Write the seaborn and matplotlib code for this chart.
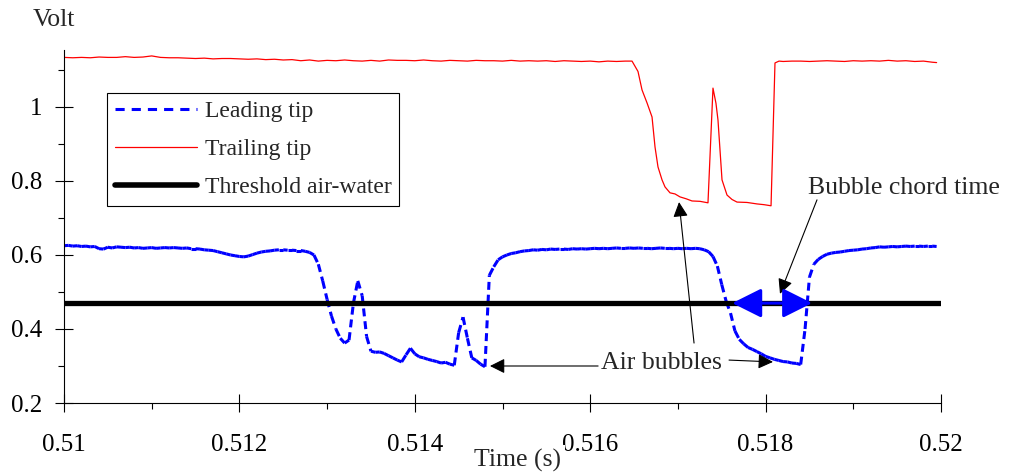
import numpy as np
import matplotlib
matplotlib.use("Agg")
import matplotlib.pyplot as plt
import seaborn as sns
from matplotlib.collections import LineCollection
from matplotlib.lines import Line2D

# ---------------- data ----------------
# Leading tip: sampled every 0.00005 s starting at 0.51 s
lead_start = 0.51
lead_step = 0.00005
lead_v = [
    0.625, 0.626, 0.624, 0.625, 0.623, 0.624, 0.622, 0.623, 0.617, 0.616,   # 0.5100
    0.621, 0.619, 0.622, 0.621, 0.620, 0.621, 0.619, 0.620, 0.618, 0.619,   # 0.5105
    0.620, 0.618, 0.619, 0.620, 0.619, 0.620, 0.619, 0.618, 0.619, 0.617,   # 0.5110
    0.617, 0.616, 0.614, 0.613, 0.612, 0.609, 0.606, 0.603, 0.600, 0.598,   # 0.5115
    0.596, 0.595, 0.597, 0.601, 0.605, 0.608, 0.610, 0.611, 0.613, 0.614,   # 0.5120
    0.614, 0.613, 0.613, 0.612, 0.612, 0.610, 0.607, 0.600, 0.575, 0.530,   # 0.5125
    0.480, 0.435, 0.400, 0.375, 0.362, 0.370, 0.470, 0.530, 0.490, 0.380,   # 0.5130
    0.340, 0.337, 0.338, 0.334, 0.328, 0.322, 0.316, 0.311, 0.330, 0.348,   # 0.5135
    0.333, 0.325, 0.322, 0.318, 0.315, 0.312, 0.308, 0.310, 0.305, 0.302,   # 0.5140
    0.390, 0.432, 0.375, 0.322, 0.315, 0.305, 0.298, 0.545, 0.568, 0.587,   # 0.5145
    0.595, 0.600, 0.604, 0.606, 0.609, 0.611, 0.612, 0.614, 0.613, 0.615,   # 0.5150
    0.614, 0.616, 0.615, 0.616, 0.616, 0.615, 0.617, 0.616, 0.617, 0.616,   # 0.5155
    0.617, 0.618, 0.617, 0.618, 0.617, 0.618, 0.619, 0.618, 0.618, 0.619,   # 0.5160
    0.618, 0.619, 0.618, 0.618, 0.617, 0.618, 0.619, 0.618, 0.618, 0.617,   # 0.5165
    0.618, 0.617, 0.618, 0.617, 0.618, 0.617, 0.614, 0.609, 0.596, 0.570,   # 0.5170
    0.520, 0.475, 0.443, 0.395, 0.372, 0.360, 0.350, 0.345, 0.339, 0.333,   # 0.5175
    0.326, 0.322, 0.318, 0.315, 0.312, 0.311, 0.308, 0.307, 0.304, 0.400,   # 0.5180
    0.540, 0.575, 0.588, 0.596, 0.602, 0.605, 0.607, 0.608, 0.610, 0.612,   # 0.5185
    0.613, 0.614, 0.616, 0.617, 0.619, 0.620, 0.622, 0.621, 0.622, 0.623,   # 0.5190
    0.622, 0.623, 0.624, 0.623, 0.624, 0.624, 0.623, 0.624, 0.624, 0.623,   # 0.5195
]
lead_t = lead_start + lead_step * np.arange(len(lead_v))

# Trailing tip
trail_t = [
    0.51000, 0.51010, 0.51020, 0.51030, 0.51040, 0.51050, 0.51060, 0.51070, 0.51080, 0.51090,
    0.51100, 0.51110, 0.51120, 0.51130, 0.51140, 0.51150, 0.51160, 0.51170, 0.51180, 0.51190,
    0.51200, 0.51210, 0.51220, 0.51230, 0.51240, 0.51250, 0.51260, 0.51270, 0.51280, 0.51290,
    0.51300, 0.51310, 0.51320, 0.51330, 0.51340, 0.51350, 0.51360, 0.51370, 0.51380, 0.51390,
    0.51400, 0.51410, 0.51420, 0.51430, 0.51440, 0.51450, 0.51460, 0.51470, 0.51480, 0.51490,
    0.51500, 0.51510, 0.51520, 0.51530, 0.51540, 0.51550, 0.51560, 0.51570, 0.51580, 0.51590,
    0.51600, 0.51610, 0.51620, 0.51630, 0.51640, 0.516477, 0.516545, 0.516591, 0.516648, 0.516705,
    0.516739, 0.516773, 0.516819, 0.516853, 0.516910, 0.516967, 0.517024, 0.517093, 0.517161, 0.517252,
    0.517343, 0.517400, 0.517434, 0.517457, 0.517503, 0.517560, 0.517617, 0.517674, 0.517788, 0.517902,
    0.517982, 0.518062, 0.518107, 0.518153, 0.51820, 0.51830, 0.51840, 0.51850, 0.51860, 0.51870,
    0.51880, 0.51890, 0.51900, 0.51910, 0.51920, 0.51930, 0.51940, 0.51950, 0.51960, 0.51970,
    0.51980, 0.51990, 0.51995,
]
trail_v = [
    1.134, 1.133, 1.134, 1.133, 1.135, 1.134, 1.134, 1.136, 1.134, 1.135,
    1.138, 1.134, 1.133, 1.133, 1.132, 1.131, 1.132, 1.130, 1.131, 1.131,
    1.130, 1.129, 1.130, 1.128, 1.129, 1.127, 1.128, 1.125, 1.127, 1.124,
    1.126, 1.125, 1.127, 1.125, 1.124, 1.126, 1.124, 1.127, 1.126, 1.126,
    1.125, 1.127, 1.125, 1.124, 1.126, 1.125, 1.124, 1.126, 1.125, 1.125,
    1.124, 1.126, 1.124, 1.125, 1.124, 1.125, 1.123, 1.125, 1.124, 1.123,
    1.124, 1.122, 1.124, 1.123, 1.124, 1.124, 1.096, 1.046, 1.011, 0.973,
    0.892, 0.838, 0.803, 0.784, 0.768, 0.765, 0.757, 0.752, 0.746, 0.745,
    0.741, 1.051, 1.010, 0.965, 0.803, 0.762, 0.750, 0.743, 0.742, 0.738,
    0.736, 0.733, 1.119, 1.124, 1.123, 1.124, 1.124, 1.123, 1.124, 1.125,
    1.124, 1.123, 1.125, 1.124, 1.125, 1.124, 1.126, 1.124, 1.125, 1.123,
    1.124, 1.121, 1.120,
]

# Threshold air-water
thresh_t = [0.51, 0.52]
thresh_v = [0.47, 0.47]

# Bubble chord time (double arrow on the threshold)
chord_t = [0.51762, 0.51853]

series_labels = ["Leading tip", "Trailing tip", "Threshold air-water"]
x_ticks = [0.510, 0.512, 0.514, 0.516, 0.518, 0.520]
x_tick_labels = ["0.51", "0.512", "0.514", "0.516", "0.518", "0.52"]
x_minor = [0.511, 0.513, 0.515, 0.517, 0.519]
y_ticks = [0.2, 0.4, 0.6, 0.8, 1.0]
y_tick_labels = ["0.2", "0.4", "0.6", "0.8", "1"]
y_minor = [0.3, 0.5, 0.7, 0.9, 1.1]

# ---------------- style ----------------
sns.set_style("ticks")
plt.rcParams["font.family"] = ["Liberation Serif", "DejaVu Serif"]
plt.rcParams["axes.linewidth"] = 0.8

W, H = 1011, 475
fig = plt.figure(figsize=(W / 100, H / 100), dpi=100)
ax = fig.add_axes([64 / W, 72 / H, 877 / W, 353 / H])

BLUE = "#0000FF"
RED = "#FF0000"

# Leading tip: each sample-to-sample segment carries its own dash pattern
pts = np.column_stack([lead_t, lead_v])
segs = np.stack([pts[:-1], pts[1:]], axis=1)
lc = LineCollection(segs, colors=BLUE, linewidths=2.2,
                    linestyles=[(0, (2.6, 1.6))], capstyle="butt", zorder=2)
ax.add_collection(lc)

sns.lineplot(x=trail_t, y=trail_v, ax=ax, color=RED, lw=0.9,
             sort=False, estimator=None, zorder=2)
sns.lineplot(x=thresh_t, y=thresh_v, ax=ax, color="black", lw=3.8,
             sort=False, estimator=None, zorder=3)

ax.set_xlim(0.51, 0.52)
ax.set_ylim(0.2, 1.154)
sns.despine(ax=ax)
ax.spines["left"].set_color("black")
ax.spines["bottom"].set_color("black")

ax.set_xticks(x_ticks)
ax.set_xticklabels(x_tick_labels)
ax.set_xticks(x_minor, minor=True)
ax.set_yticks(y_ticks)
ax.set_yticklabels(y_tick_labels)
ax.set_yticks(y_minor, minor=True)
ax.tick_params(axis="both", which="major", direction="inout", length=13,
               width=0.8, colors="black", labelsize=18)
ax.tick_params(axis="x", which="major", pad=16)
ax.tick_params(axis="y", which="major", pad=9)
ax.tick_params(axis="both", which="minor", direction="out", length=4.5,
               width=0.8, colors="black")
ax.set_xlabel("")
ax.set_ylabel("")

# blue double arrow (bubble chord time)
ax.annotate("", xy=(chord_t[1], thresh_v[0]), xytext=(chord_t[0], thresh_v[0]),
            arrowprops=dict(arrowstyle="<|-|>,head_length=18,head_width=9",
                            mutation_scale=1, color=BLUE, lw=2.2,
                            shrinkA=0, shrinkB=0), zorder=4)

black_arrow = dict(arrowstyle="-|>,head_length=9,head_width=4.5",
                   mutation_scale=1, color="black", lw=0.8,
                   shrinkA=0, shrinkB=0)
# Air bubbles arrows
ax.annotate("", xy=(0.517013, 0.743), xytext=(0.517184, 0.362), arrowprops=black_arrow)
ax.annotate("", xy=(0.514857, 0.300), xytext=(0.516090, 0.300), arrowprops=black_arrow)
ax.annotate("", xy=(0.518084, 0.311), xytext=(0.517583, 0.316), arrowprops=black_arrow)
# Bubble chord time arrow
ax.annotate("", xy=(0.518164, 0.495), xytext=(0.518586, 0.749), arrowprops=black_arrow)

ax.text(0.516125, 0.308, "Air bubbles", fontsize=18.5, ha="left", va="center")
ax.text(0.518483, 0.781, "Bubble chord time", fontsize=18.5, ha="left",
        va="center", clip_on=False)

# legend
handles = [
    Line2D([], [], color=BLUE, lw=2.2, linestyle=(0, (3.0, 2.3))),
    Line2D([], [], color=RED, lw=0.9),
    Line2D([], [], color="black", lw=4),
]
leg = ax.legend(handles, series_labels, loc="upper left",
                bbox_to_anchor=((107 - 64) / 877, (403 - 93) / 353),
                fontsize=17, frameon=True, fancybox=False, edgecolor="black",
                handlelength=3.5, handletextpad=0.3, labelspacing=0.7,
                borderpad=0.33, borderaxespad=0)
leg.get_frame().set_linewidth(0.8)
leg.get_frame().set_alpha(1)

fig.text(33 / W, 1 - 20 / H, "Volt", fontsize=18.5, ha="left", va="center")
fig.text(518 / W, 1 - 460 / H, "Time (s)", fontsize=18.5, ha="center",
         va="center", bbox=dict(facecolor="white", edgecolor="none", pad=2.5))

fig.savefig("out.png", dpi=100)
